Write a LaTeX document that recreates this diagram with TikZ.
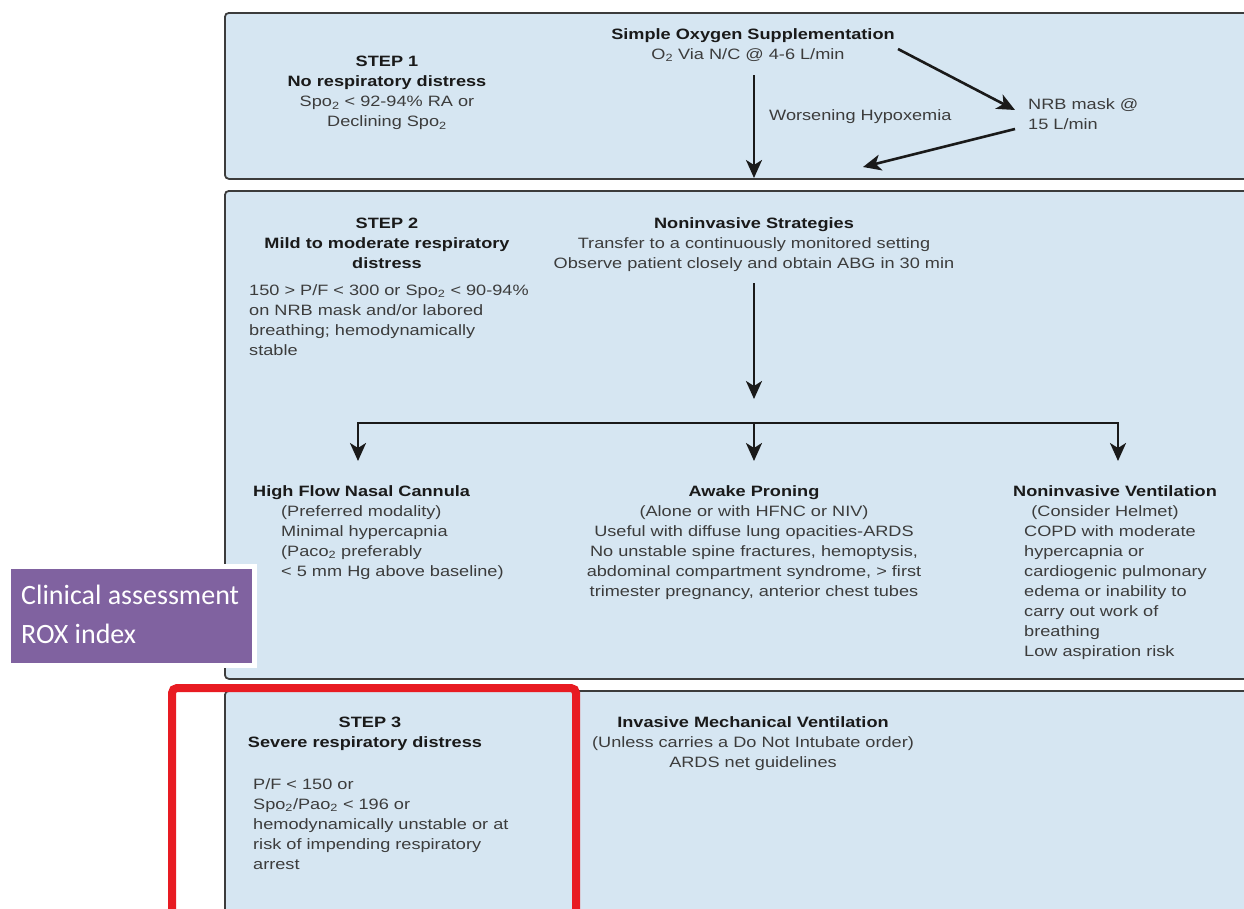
\documentclass[tikz,border=0pt]{standalone}
\usepackage{fontspec}
\setmainfont[FakeStretch=1.21]{Liberation Sans}
\newfontfamily\calibfont{Carlito}
\usetikzlibrary{arrows.meta,shadows}
\newcommand\ssub[1]{\textsubscript{#1}}
\definecolor{boxfill}{HTML}{D6E6F2}
\definecolor{boxline}{HTML}{3C3C3C}
\definecolor{txtgray}{HTML}{3C3C3C}
\definecolor{hdgray}{HTML}{1A1A1A}
\definecolor{purplebox}{HTML}{8062A0}
\definecolor{redframe}{HTML}{E81B22}
\tikzset{
  panel/.style={draw=boxline, line width=1.8pt, fill=boxfill, rounded corners=4pt, anchor=north west, inner sep=0pt},
  txt/.style={font=\fontsize{15}{20}\selectfont, text=txtgray, inner sep=0pt, align=center, anchor=north},
  txtl/.style={txt, align=left, anchor=north west},
  hd/.style={font=\fontsize{15}{20}\selectfont\bfseries, text=hdgray},
  arr/.style={line width=2.6pt, draw=hdgray, -{Stealth[length=18pt,width=16pt,inset=5pt]}},
}
\begin{document}
\begin{tikzpicture}[x=1pt,y=-1pt]
\useasboundingbox (0,0) rectangle (1244,908);
\fill[white] (0,0) rectangle (1244,908);

% panels
\node[panel, minimum width=1040pt, minimum height=166pt] (p1) at (224,12) {};
\node[panel, minimum width=1040pt, minimum height=488pt] (p2) at (224,190) {};
\node[panel, minimum width=1040pt, minimum height=240pt] (p3) at (224,690) {};

% step 1
\node[txt] (s1) at (387,56) {{\bfseries\color{hdgray}STEP 1}\\{\bfseries\color{hdgray}No respiratory distress}\\Spo\ssub{2} < 92-94\% RA or\\Declining Spo\ssub{2}};
\node[txt, hd] (oxy) at (753,28) {Simple Oxygen Supplementation};
\node[txt] (oxy2) at (748,48) {O\ssub{2} Via N/C @ 4-6 L/min};
\node[txtl] (worse) at (769,109) {Worsening Hypoxemia};
\node[txtl] (nrb) at (1028,98) {NRB mask @\\15 L/min};

\coordinate (a1s) at (754,75);
\coordinate (a1e) at (754,178);
\coordinate (a2s) at (898,49);
\coordinate (a2e) at (1015,110);
\coordinate (a3s) at (1015,129);
\coordinate (a3e) at (863,167);
\draw[arr] (a1s) -- (a1e);
\draw[arr] (a2s) -- (a2e);
\draw[arr] (a3s) -- (a3e);

% step 2
\node[txt, hd] (s2) at (387,217.5) {STEP 2\\Mild to moderate respiratory\\distress};
\node[txtl] (s2b) at (249,284.5) {150 > P/F < 300 or Spo\ssub{2} < 90-94\%\\on NRB mask and/or labored\\breathing; hemodynamically\\stable};
\node[txt] (nis) at (754,217.5) {{\bfseries\color{hdgray}Noninvasive Strategies}\\Transfer to a continuously monitored setting\\Observe patient closely and obtain ABG in 30 min};

\coordinate (b0) at (754,283);
\coordinate (b1) at (754,399);
\coordinate (j) at (754,423);
\coordinate (t1) at (358,461);
\coordinate (t2) at (754,461);
\coordinate (t3) at (1118,461);
\draw[arr] (b0) -- (b1);
\draw[arr] (j) -| (t1);
\draw[arr] (j) -| (t3);
\draw[arr] (j) -- (t2);

\node[txtl, hd] (hf) at (253,485) {High Flow Nasal Cannula};
\node[txtl] (hfb) at (281,505) {(Preferred modality)\\Minimal hypercapnia\\(Paco\ssub{2} preferably\\< 5 mm Hg above baseline)};
\node[txt] (ap) at (754,485) {{\bfseries\color{hdgray}Awake Proning}\\(Alone or with HFNC or NIV)\\Useful with diffuse lung opacities-ARDS\\No unstable spine fractures, hemoptysis,\\abdominal compartment syndrome, > first\\trimester pregnancy, anterior chest tubes};
\node[txt, hd] (niv) at (1115,485) {Noninvasive Ventilation};
\node[txt] (niv2) at (1105,505) {(Consider Helmet)};
\node[txtl] (nivb) at (1024,525) {COPD with moderate\\hypercapnia or\\cardiogenic pulmonary\\edema or inability to\\carry out work of\\breathing\\Low aspiration risk};

% step 3
\node[txt, hd] (s3) at (370,716.5) {STEP 3};
\node[txt, hd] (s3b) at (365,736.5) {Severe respiratory distress};
\node[txtl] (s3c) at (253,778.5) {P/F < 150 or\\Spo\ssub{2}/Pao\ssub{2} < 196 or\\hemodynamically unstable or at\\risk of impending respiratory\\arrest};
\node[txt] (imv) at (753,716.5) {{\bfseries\color{hdgray}Invasive Mechanical Ventilation}\\(Unless carries a Do Not Intubate order)\\ARDS net guidelines};

% purple label
\node[fill=purplebox, draw=white, line width=5pt, anchor=north west, minimum width=246pt, minimum height=99pt,
      drop shadow={opacity=0.3, shadow xshift=1pt, shadow yshift=-3pt}] (rox) at (6,563.5) {};
\node[anchor=west, inner sep=0pt, text=white, align=left, font=\calibfont\fontsize{28}{39}\selectfont] (roxt) at (21,614) {Clinical assessment\\ROX index};

% red frame
\draw[redframe, line width=8pt, rounded corners=5pt] (172,930) -- (172,688) -- (576,688) -- (576,930);
\end{tikzpicture}
\end{document}
